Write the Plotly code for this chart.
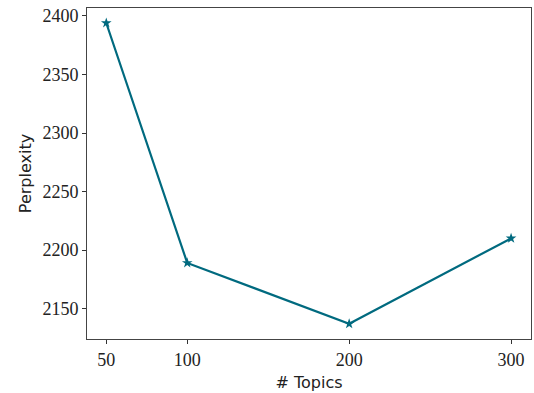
import plotly.graph_objects as go

topics = [50, 100, 200, 300]
perplexity = [2394, 2189, 2137, 2210]
x_ticks = [50, 100, 200, 300]
y_ticks = [2150, 2200, 2250, 2300, 2350, 2400]

fig = go.Figure()
fig.add_trace(go.Scatter(
    x=topics, y=perplexity, mode="lines+markers",
    line=dict(color="#006a7f", width=2.2),
    marker=dict(symbol="star", size=8, color="#006a7f"),
))

axis_common = dict(
    showgrid=False, zeroline=False, showline=True, mirror=True,
    linecolor="#444", linewidth=1, ticks="outside", ticklen=4,
    tickcolor="#333", tickfont=dict(family="Liberation Serif", size=18, color="#222"),
)
fig.update_xaxes(range=[38.1, 312.3], tickvals=x_ticks, ticktext=[str(v) for v in x_ticks],
                 title=dict(text="# Topics", font=dict(family="DejaVu Sans", size=16, color="#222"), standoff=8),
                 **axis_common)
fig.update_yaxes(range=[2124, 2406.8], tickvals=y_ticks, ticktext=[str(v) for v in y_ticks],
                 title=dict(text="Perplexity", font=dict(family="DejaVu Sans", size=16, color="#222"), standoff=6),
                 **axis_common)
fig.update_layout(
    width=534, height=393, margin=dict(l=87, r=3, t=8, b=54),
    paper_bgcolor="white", plot_bgcolor="white", showlegend=False,
)
fig.write_html("out.html")
